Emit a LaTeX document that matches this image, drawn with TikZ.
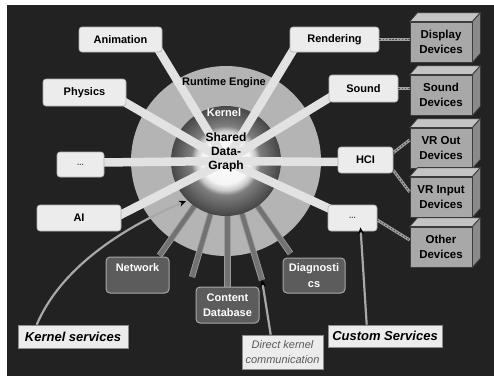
\documentclass[tikz,border=0pt]{standalone}
\usepackage{fontspec}
\setmainfont{Liberation Sans}
\usetikzlibrary{arrows.meta,calc}
\definecolor{bg}{HTML}{222222}
\definecolor{ringc}{HTML}{B4B4B4}
\definecolor{lspoke}{HTML}{E2E2E2}
\definecolor{lboxf}{HTML}{ECECEC}
\definecolor{lboxd}{HTML}{B0B0B0}
\definecolor{dboxf}{HTML}{5C5C5C}
\definecolor{dboxd}{HTML}{A8A8A8}
\definecolor{gspokef}{HTML}{727272}
\definecolor{gspoked}{HTML}{9A9A9A}
\definecolor{devfront}{HTML}{A8A8A8}
\definecolor{devtop}{HTML}{C4C4C4}
\definecolor{devside}{HTML}{8A8A8A}
\definecolor{devline}{HTML}{3C3C3C}
\definecolor{chainc}{HTML}{A0A0A0}
\definecolor{arrc}{HTML}{A8A8A8}
\pgfdeclarelayer{lring}
\pgfdeclarelayer{lspokes}
\pgfsetlayers{lring,lspokes,main}
\begin{document}
\begin{tikzpicture}[x=1pt,y=-1pt,
  every node/.style={font=\bfseries\fontsize{11}{15}\selectfont, inner sep=0pt, align=center},
  lbox/.style={draw=lboxd, fill=lboxf, rounded corners=3pt, line width=0.6pt},
  dbox/.style={draw=dboxd, fill=dboxf, rounded corners=4pt, line width=1pt, text=white},
  devbox/.style={draw=devline, fill=devfront, line width=0.8pt, minimum width=62, minimum height=40, font=\bfseries\fontsize{11.5}{15}\selectfont},
  lab/.style={draw=black!45, fill=lboxf, line width=0.6pt, font=\bfseries\itshape\fontsize{13}{15}\selectfont},
  lspk/.style={draw=lspoke, line width=8.5pt},
  gspk/.style={draw=gspoked, double=gspokef, double distance=4.5pt, line width=0.9pt},
  chainlink/.style={draw=chainc, line width=3pt, postaction={draw=black!70, line width=1pt, dash pattern=on 1.6pt off 1.6pt}},
  arr/.style={draw=arrc, line width=2.2pt, -{Stealth[length=7pt,width=6pt,black]}},
  dots/.style={font=\bfseries\fontsize{8}{10}\selectfont, text=black!70}]
\useasboundingbox (0,0) rectangle (494,376);
\coordinate (c) at (226,161);

% light boxes
\node[lbox, minimum width=83, minimum height=25] (anim) at (120.5,39.5) {Animation};
\node[lbox, minimum width=89, minimum height=25] (rend) at (334.5,39.5) {Rendering};
\node[lbox, minimum width=83, minimum height=27] (phys) at (84.5,92.5) {Physics};
\node[lbox, minimum width=69, minimum height=27] (snd) at (363.5,88.5) {Sound};
\node[lbox, minimum width=47, minimum height=25, dots] (dotsl) at (80.5,164.5) {...};
\node[lbox, minimum width=55, minimum height=26] (hci) at (365.5,160) {HCI};
\node[lbox, minimum width=84, minimum height=26] (ai) at (79,218) {AI};
\node[lbox, minimum width=49, minimum height=26, dots] (dotsr) at (352.5,218) {...};

% kernel service boxes
\node[dbox, minimum width=63, minimum height=36] (net) at (137.5,275) {Network\\\mbox{}};
\node[dbox, minimum width=63, minimum height=36] (cdb) at (227.5,305) {Content\\Database};
\node[dbox, minimum width=62, minimum height=35, font=\bfseries\fontsize{11}{16}\selectfont] (diag) at (314,275.5) {Diagnosti\\cs};

% devices
\node[devbox] (disp) at (441,42) {Display\\Devices};
\node[devbox] (sdev) at (441,95) {Sound\\Devices};
\node[devbox] (vrout) at (441,148) {VR Out\\Devices};
\node[devbox] (vrin) at (441,197) {VR Input\\Devices};
\node[devbox] (other) at (441,247) {Other\\Devices};
\foreach \n in {disp,sdev,vrout,vrin,other}{
  \filldraw[draw=devline, fill=devtop, line width=0.8pt, line join=round] (\n.north west) -- ++(8,-9) -- ($(\n.north east)+(8,-9)$) -- (\n.north east) -- cycle;
  \filldraw[draw=devline, fill=devside, line width=0.8pt, line join=round] (\n.north east) -- ++(8,-9) -- ($(\n.south east)+(8,-9)$) -- (\n.south east) -- cycle;
}

% labels
\node[lab, minimum width=110, minimum height=23] (ks) at (73,336.5) {Kernel services};
\node[lab, minimum width=81, minimum height=34, font=\itshape\fontsize{11}{15}\selectfont, text=black!65] (dkc) at (282.5,352) {Direct kernel\\communication};
\node[lab, minimum width=114, minimum height=22] (cs) at (385,336) {Custom Services};

% engine texts
\node (rt) at (224,83) {Runtime Engine};
\node[text=white] (kern) at (224,113) {Kernel};
\node[font=\bfseries\fontsize{12}{14}\selectfont] (sdg) at (226,152) {Shared\\Data-\\Graph};

% rings and spokes
\begin{pgfonlayer}{lring}
  \fill[bg] (7,5) rectangle (494,376);
  \fill[ringc] (c) circle (95);
  \draw[gspk] (c) -- ($(net.north)+(22,-1)$);
  \coordinate (free1) at (192,277);
  \draw[gspk] (c) -- (free1);
  \draw[gspk] (c -| cdb.north) -- (cdb.north);
  \coordinate (free2) at (262,280);
  \draw[gspk] (c) -- (free2);
  \draw[gspk] (c) -- ($(diag.north west)+(8,-4)$);
  \foreach \r in {55,54.5,...,0.4}{
    \pgfmathsetmacro\bk{\r<=24 ? 4*\r/24 : (\r<=30 ? 4+(\r-24)*2.667 : (\r<=35 ? 20+(\r-30)*6 : 50+(\r-35)*1.1))}
    \fill[black!\bk!white] (c) circle (\r);
  }
\end{pgfonlayer}
\begin{pgfonlayer}{lspokes}
  \draw[lspk] (c) -- ($(anim.south east)+(-4,-3)$);
  \draw[lspk] (c) -- ($(rend.south west)+(4,-3)$);
  \draw[lspk] (c) -- ($(phys.south east)+(-3,-5)$);
  \draw[lspk] (c) -- ($(snd.south west)+(3,-6)$);
  \draw[lspk] (c) -- ($(dotsl.east)+(-3,-2)$);
  \draw[lspk] (c) -- ($(hci.west)+(3,2)$);
  \draw[lspk] (c) -- ($(ai.east)+(-3,-2)$);
  \draw[lspk] (c) -- ($(dotsr.north west)+(4,5)$);
\end{pgfonlayer}

% device connectors
\draw[chainlink] (rend.east) -- (rend.east -| disp.west);
\draw[chainlink] (snd.east) -- (snd.east -| sdev.west);
\draw[chainlink] ($(hci.north east)+(0,6)$) -- ($(vrout.west)+(0,-8)$);
\draw[chainlink] ($(hci.south east)+(0,-3)$) -- ($(vrin.west)+(0,-5)$);
\draw[chainlink] ($(dotsr.east)+(0,2)$) -- ($(other.west)+(0,-7)$);

% annotation arrows
\coordinate (kstip) at (186,201);
\draw[arr] ($(ks.north west)+(19,0)$) .. controls (60,270) and (118,230) .. (kstip);
\draw[arr] ($(dkc.north west)+(29,0)$) -- (free2);
\draw[arr] ($(cs.north west)+(39,0)$) -- ($(dotsr.south)+(8,-4)$);
\end{tikzpicture}
\end{document}
